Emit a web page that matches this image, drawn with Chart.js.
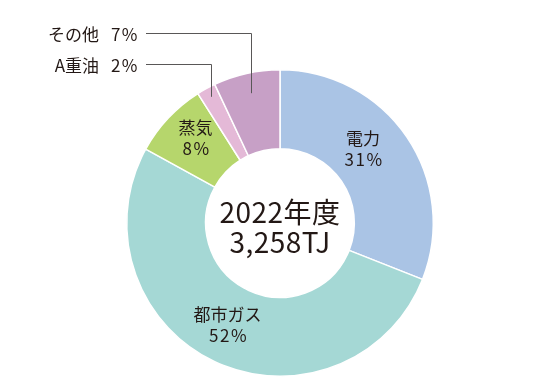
<!DOCTYPE html>
<html lang="ja">
<head>
<meta charset="utf-8">
<script src="https://cdn.jsdelivr.net/npm/chart.js@4.4.1/dist/chart.umd.min.js"></script>
<style>
  html, body { margin: 0; padding: 0; background: #fff; }
  #wrap { width: 560px; height: 378px; position: relative; }
</style>
</head>
<body>
<div id="wrap"><canvas id="energyChart"></canvas></div>
<script>
// Data
const categories = ["電力", "都市ガス", "蒸気", "A重油", "その他"];
const shares = [31, 52, 8, 2, 7];
const centerLines = ["2022年度", "3,258TJ"];

const colors = ["#aac4e5", "#a5d8d5", "#b6d66c", "#e4b9d7", "#c7a0c6"];
const FONT = '"Noto Sans CJK JP", "Noto Sans", sans-serif';
const TEXT = "#231815";

// labels inside segments (index -> small nudge), and callout labels (index -> radius of leader end, text y)
const insideNudge = { 0: [-11, -10], 1: [-4, -1], 2: [-1.5, -7.5] };
const callouts = { 4: { r: 133, y: 33 }, 3: { r: 144, y: 64 } };

const labelPlugin = {
  id: "labels",
  afterDraw(chart) {
    const ctx = chart.ctx;
    const arcs = chart.getDatasetMeta(0).data;
    ctx.save();
    ctx.fillStyle = TEXT;
    ctx.textBaseline = "middle";

    // inside labels
    ctx.font = "17px " + FONT;
    ctx.textAlign = "center";
    Object.keys(insideNudge).forEach(k => {
      const i = Number(k);
      const p = arcs[i].getCenterPoint();
      const [dx, dy] = insideNudge[i];
      ctx.letterSpacing = "0px";
      ctx.fillText(categories[i], p.x + dx, p.y + dy - 10);
      ctx.letterSpacing = "1.5px";
      ctx.fillText(shares[i] + "%", p.x + dx + 1, p.y + dy + 11);
    });

    // callouts with leader lines
    ctx.strokeStyle = "#595757";
    ctx.lineWidth = 1;
    ctx.textAlign = "right";
    Object.keys(callouts).forEach(k => {
      const i = Number(k);
      const a = arcs[i];
      const mid = (a.startAngle + a.endAngle) / 2;
      const ex = a.x + Math.cos(mid) * callouts[i].r;
      const ey = a.y + Math.sin(mid) * callouts[i].r;
      const ty = callouts[i].y;
      ctx.beginPath();
      ctx.moveTo(146, ty + 0.5);
      ctx.lineTo(Math.round(ex) + 0.5, ty + 0.5);
      ctx.lineTo(Math.round(ex) + 0.5, ey);
      ctx.stroke();
      ctx.letterSpacing = "0px";
      ctx.fillText(categories[i], 99, ty + 1.5);
      ctx.letterSpacing = "1.5px";
      ctx.fillText(shares[i] + "%", 139, ty + 1.5);
    });

    // center text
    const c = arcs[0];
    ctx.textAlign = "center";
    ctx.font = "28px " + FONT;
    ctx.letterSpacing = "0.5px";
    ctx.fillText(centerLines[0], c.x, c.y - 11);
    ctx.fillText(centerLines[1], c.x, c.y + 19);
    ctx.restore();
  }
};

new Chart(document.getElementById("energyChart"), {
  type: "doughnut",
  data: {
    labels: categories,
    datasets: [{
      data: shares,
      backgroundColor: colors,
      borderColor: "#ffffff",
      borderWidth: 1.5
    }]
  },
  options: {
    responsive: true,
    maintainAspectRatio: false,
    animation: false,
    cutout: "48.5%",
    layout: { padding: { top: 69, bottom: 1, left: 0, right: 0 } },
    plugins: {
      legend: { display: false },
      tooltip: { enabled: false }
    }
  },
  plugins: [labelPlugin]
});
</script>
</body>
</html>
